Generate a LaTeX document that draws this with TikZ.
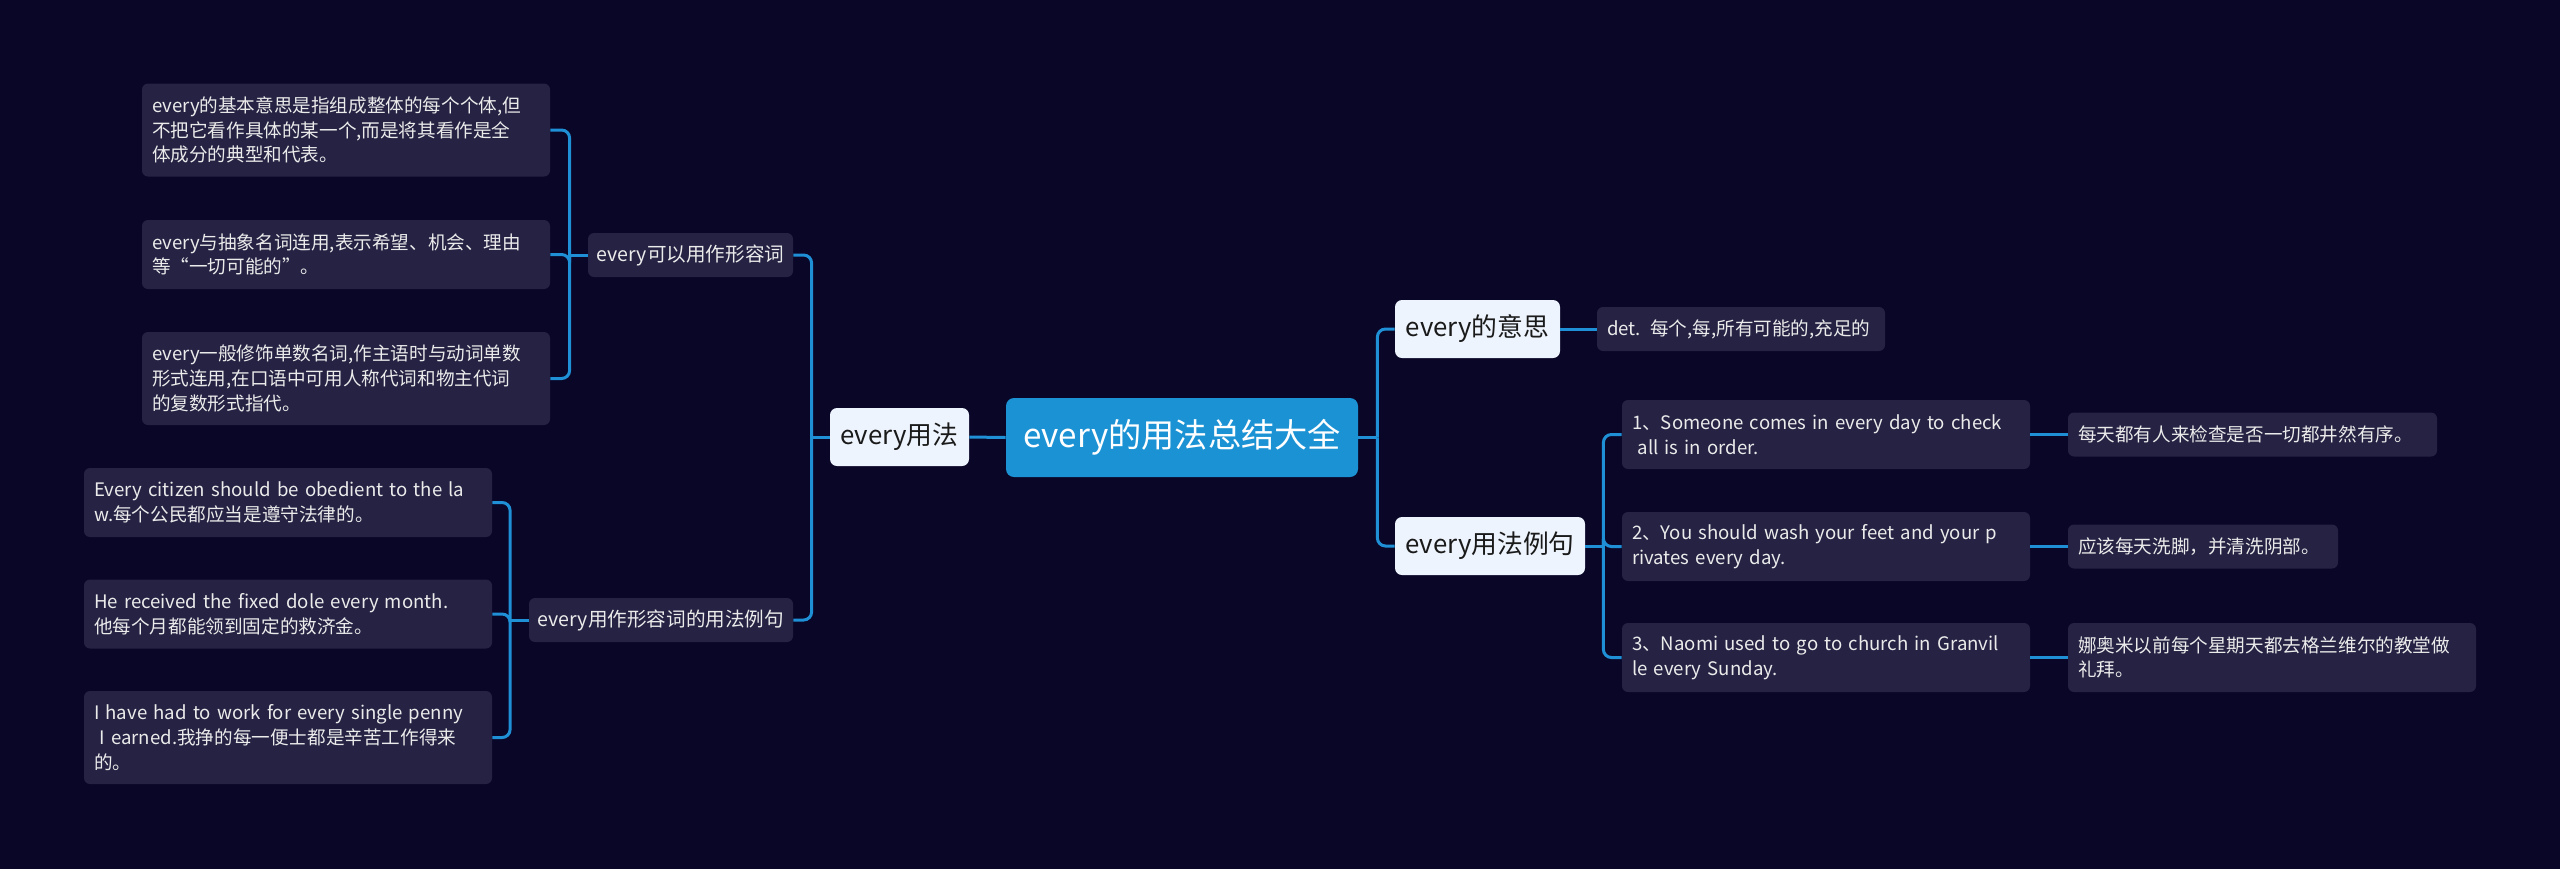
\documentclass[tikz,border=0pt]{standalone}
\usepackage{fontspec}
\setmainfont{Noto Sans CJK SC}
\usetikzlibrary{positioning}

\definecolor{bgnavy}{HTML}{0A0628}
\definecolor{leaffill}{HTML}{252243}
\definecolor{linkblue}{HTML}{1F8FD6}
\definecolor{rootblue}{HTML}{1B92D4}
\definecolor{topicfill}{HTML}{EEF4FD}
\definecolor{topictext}{HTML}{1A1A1A}

\begin{document}
\begin{tikzpicture}[
        x=0.5pt, y=-0.5pt,
        root/.style={
            rectangle,
            rounded corners=4pt,
            fill=rootblue,
            text=white,
            font=\fontsize{16.6}{19}\selectfont,
            minimum width=176pt,
            minimum height=39.5pt,
            inner sep=0pt
        },
        topic/.style={
            rectangle,
            rounded corners=3.5pt,
            fill=topicfill,
            text=topictext,
            font=\fontsize{12.9}{15}\selectfont,
            minimum height=29pt,
            inner sep=0pt
        },
        subtopic/.style={
            rectangle,
            rounded corners=3pt,
            fill=leaffill,
            text=white!92!black,
            font=\fontsize{9.8}{12}\selectfont,
            minimum height=22pt,
            inner sep=0pt
        },
        leaf/.style={
            rectangle,
            rounded corners=3pt,
            fill=leaffill,
            text=white!92!black,
            font=\fontsize{9.3}{12.3}\selectfont,
            align=left,
            minimum height=22pt,
            inner xsep=5pt,
            inner ysep=0pt
        },
        lines2/.style={minimum height=34.5pt},
        lines3/.style={minimum height=46.5pt},
        link/.style={draw=linkblue, line width=1.5pt, rounded corners=4pt}
    ]
        \fill[bgnavy] (0,0) rectangle (2560,869);
        \useasboundingbox (0,0) rectangle (2560,869);

        % Centre
        \node[root] (root) at (1182,437.5) {every的用法总结大全};

        % Left branch: usage
        \node[topic, minimum width=69.5pt] (usage) at (899.5,437) {every用法};
        \node[subtopic, minimum width=102.5pt] (adj) at (690.5,255)
            {every可以用作形容词};
        \node[subtopic, minimum width=132pt] (adjex) at (661,620)
            {every用作形容词的用法例句};

        \node[leaf, text width=194pt, lines3] (adj1) at (346,130)
            {every的基本意思是指组成整体的每个个体,但\\不把它看作具体的某一个,而是将其看作是全\\体成分的典型和代表。};
        \node[leaf, text width=194pt, lines2] (adj2) at (346,254.5)
            {every与抽象名词连用,表示希望、机会、理由\\等“一切可能的”。};
        \node[leaf, text width=194pt, lines3] (adj3) at (346,378.5)
            {every一般修饰单数名词,作主语时与动词单数\\形式连用,在口语中可用人称代词和物主代词\\的复数形式指代。};

        \node[leaf, text width=194pt, lines2] (adjex1) at (288,502.5)
            {Every citizen should be obedient to the la\\w.每个公民都应当是遵守法律的。};
        \node[leaf, text width=194pt, lines2] (adjex2) at (288,614)
            {He received the fixed dole every month.\\他每个月都能领到固定的救济金。};
        \node[leaf, text width=194pt, lines3] (adjex3) at (288,737.5)
            {I have had to work for every single penny\\\hspace*{.3em}I earned.我挣的每一便士都是辛苦工作得来\\的。};

        % Right branch: meaning and examples
        \node[topic, minimum width=82.5pt] (meaning) at (1477.5,329) {every的意思};
        \node[leaf, text width=134pt] (det) at (1741,329)
            {det. 每个,每,所有可能的,充足的};
        \node[topic, minimum width=95pt] (examples) at (1490,546) {every用法例句};

        \node[leaf, text width=194pt, lines2] (ex1) at (1826,434.5)
            {1、Someone comes in every day to check\\\hspace*{.3em}all is in order.};
        \node[leaf, text width=194pt, lines2] (ex2) at (1826,546.5)
            {2、You should wash your feet and your p\\rivates every day.};
        \node[leaf, text width=194pt, lines2] (ex3) at (1826,657.5)
            {3、Naomi used to go to church in Granvil\\le every Sunday.};

        \node[leaf, text width=174.5pt] (tr1) at (2252.5,434.5)
            {每天都有人来检查是否一切都井然有序。};
        \node[leaf, text width=125pt] (tr2) at (2203,546.5)
            {应该每天洗脚，并清洗阴部。};
        \node[leaf, text width=194pt, lines2] (tr3) at (2272,657.5)
            {娜奥米以前每个星期天都去格兰维尔的教堂做\\礼拜。};

        % Connectors, left side
        \draw[link] (root.west) -- (usage.east);
        \coordinate (ubus) at ([xshift=-9pt]usage.west);
        \draw[link] (usage.west) -- (ubus);
        \draw[link] (ubus) |- (adj.east);
        \draw[link] (ubus) |- (adjex.east);

        \coordinate (abus) at ([xshift=-9pt]adj.west);
        \draw[link] (adj.west) -- (abus);
        \foreach \n in {adj1,adj2,adj3}
            \draw[link] (abus) |- (\n.east);

        \coordinate (aebus) at ([xshift=-9.25pt]adjex.west);
        \draw[link] (adjex.west) -- (aebus);
        \foreach \n in {adjex1,adjex2,adjex3}
            \draw[link] (aebus) |- (\n.east);

        % Connectors, right side
        \coordinate (rbus) at ([xshift=9.5pt]root.east);
        \draw[link] (root.east) -- (rbus);
        \draw[link] (rbus) |- (meaning.west);
        \draw[link] (rbus) |- (examples.west);
        \draw[link] (meaning.east) -- (det.west);

        \coordinate (exbus) at ([xshift=9pt]examples.east);
        \draw[link] (examples.east) -- (exbus);
        \foreach \n in {ex1,ex2,ex3}
            \draw[link] (exbus) |- (\n.west);

        \draw[link] (ex1.east) -- (tr1.west);
        \draw[link] (ex2.east) -- (tr2.west);
        \draw[link] (ex3.east) -- (tr3.west);
    \end{tikzpicture}
\end{document}
